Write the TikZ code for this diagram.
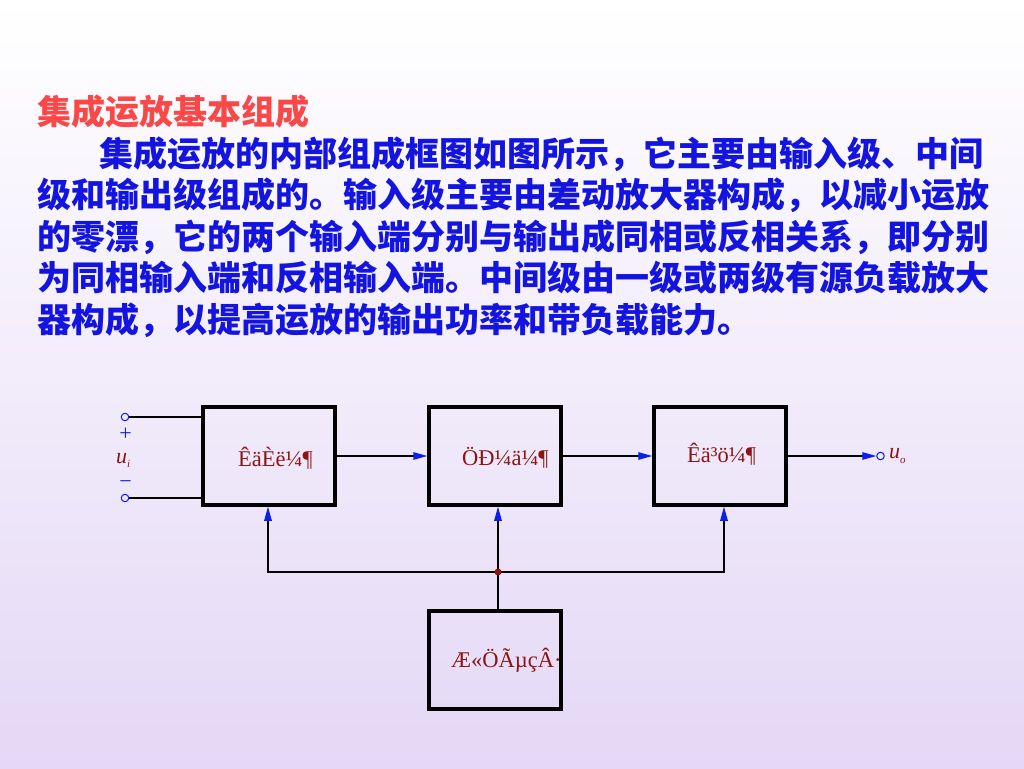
\documentclass[tikz,border=0pt]{standalone}
\usepackage{fontspec}
\setmainfont{Liberation Serif}
\newfontfamily\cjk{Noto Sans CJK SC}
\usetikzlibrary{arrows.meta}
\definecolor{titlered}{RGB}{250,72,72}
\definecolor{textblue}{RGB}{20,20,225}
\definecolor{boxred}{RGB}{140,20,20}
\definecolor{tipblue}{RGB}{10,30,240}
\definecolor{lavender}{RGB}{228,216,246}

\begin{document}
\begin{tikzpicture}[x=1pt,y=-1pt]
\tikzstyle{every node}=[inner sep=0pt]
\tikzstyle{stage}=[draw=black,line width=3.5pt,minimum width=132pt,minimum height=98pt]
\tikzstyle{stagetext}=[anchor=base west,text=boxred,font=\fontsize{22.5}{24}\selectfont]
\tikzstyle{bodyline}=[anchor=base west,text=textblue,font=\cjk\bfseries\fontsize{34}{40}\selectfont]
\tikzstyle{wire}=[line width=1.2pt]
\tikzstyle{feed}=[wire,-{Triangle[length=14pt,width=7.5pt,color=tipblue]}]
\tikzstyle{term}=[circle,draw=tipblue,line width=1pt,minimum size=7.5pt]
\tikzstyle{sign}=[text=tipblue,font=\fontsize{22}{22}\selectfont]
\tikzstyle{voltage}=[anchor=base west,text=boxred,font=\fontsize{22}{22}\selectfont\itshape]

\shade[top color=white,bottom color=lavender] (0,0) rectangle (1024,768);

% heading and text
\node[bodyline,text=titlered] (title) at (37,124.5) {集成运放基本组成};
\node[bodyline] (l1) at (99,166) {集成运放的内部组成框图如图所示，它主要由输入级、中间};
\node[bodyline] (l2) at (37,207.5) {级和输出级组成的。输入级主要由差动放大器构成，以减小运放};
\node[bodyline] (l3) at (37,249) {的零漂，它的两个输入端分别与输出成同相或反相关系，即分别};
\node[bodyline] (l4) at (37,290.5) {为同相输入端和反相输入端。中间级由一级或两级有源负载放大};
\node[bodyline] (l5) at (37,332) {器构成，以提高运放的输出功率和带负载能力。};

% blocks
\node[stage] (b1) at (269,456) {};
\node[stage] (b2) at (495,456) {};
\node[stage] (b3) at (720,456) {};
\node[stage] (b4) at (495,660) {};
\node[stagetext] (t1) at (238,466) {ÊäÈë¼¶};
\node[stagetext] (t2) at (462,465) {ÖÐ¼ä¼¶};
\node[stagetext] (t3) at (687,462) {Êä³ö¼¶};
\node[stagetext] (t4) at (451,667) {Æ«ÖÃµçÂ·};

% input
\node[term] (ip) at (125,417) {};
\node[term] (im) at (125,498) {};
\draw[wire] (ip) -- (ip -| b1.west);
\draw[wire] (im) -- (im -| b1.west);
\node[sign] (plus) at (125.5,434.5) {+};
\node[sign,anchor=base] (minus) at (125.5,488) {−};
\node[voltage] (ui) at (116,463) {u\raisebox{-4pt}{\fontsize{11}{11}\selectfont i}};

% forward path
\node[term] (out) at (880.5,456) {};
\draw[feed] (b1) -- (b2);
\draw[feed] (b2) -- (b3);
\draw[feed] (b3) -- (out);
\node[voltage] (uo) at (889,458) {u\raisebox{-5pt}{\fontsize{11}{11}\selectfont o}};

% bias
\coordinate (bias) at (498,572);
\draw[wire] (b4.north -| bias) -- (bias);
\draw[feed] (bias) -- (bias |- b2.south);
\draw[feed] (bias) -| ([xshift=-1pt]b1.south);
\draw[feed] (bias) -| ([xshift=4pt]b3.south);
\node[circle,fill=boxred,minimum size=7pt] (biasdot) at (bias) {};
\end{tikzpicture}
\end{document}
